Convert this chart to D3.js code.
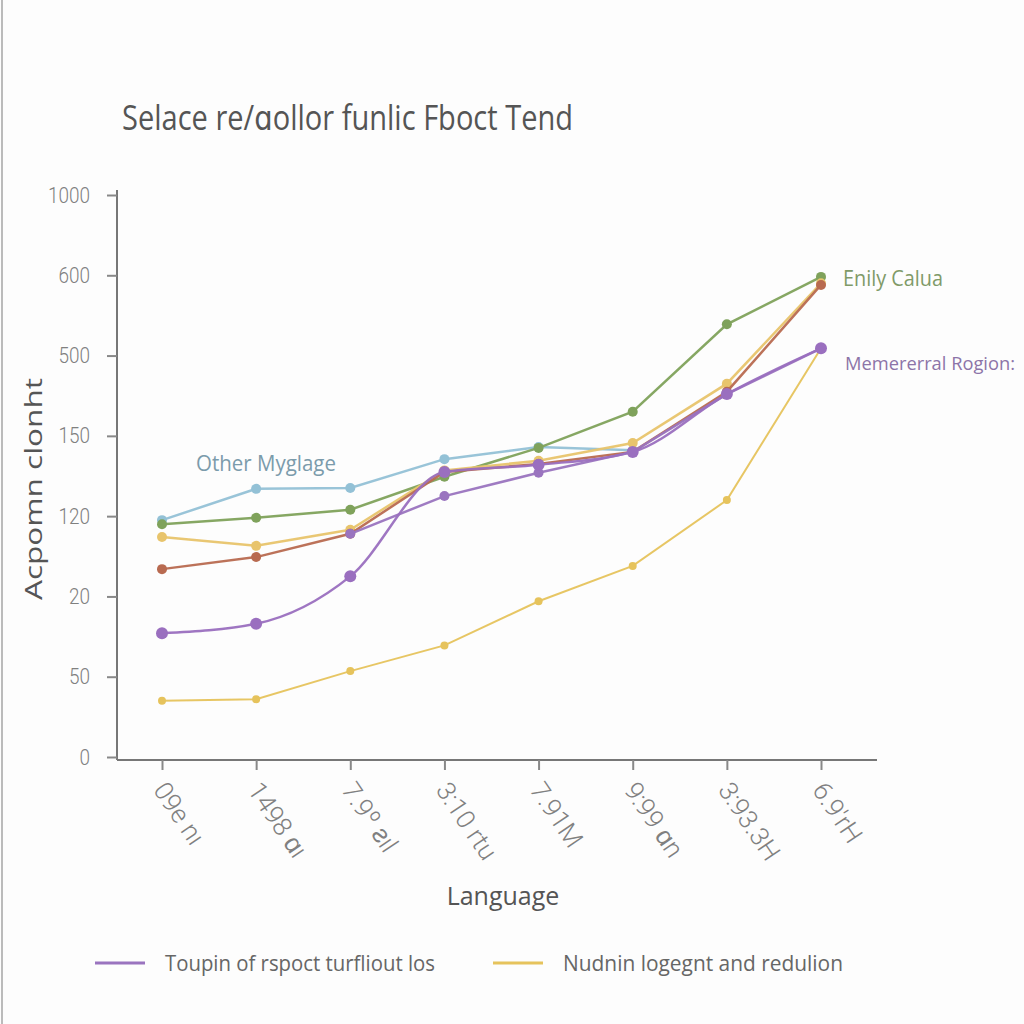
<!DOCTYPE html>
<html>
<head>
<meta charset="utf-8">
<script src="https://cdn.jsdelivr.net/npm/d3@7"></script>
<style>
  body { margin: 0; background: #fdfdfd; }
  svg { font-family: "Open Sans", "DejaVu Sans", sans-serif; }
</style>
</head>
<body>
<svg></svg>
<script>
// categories on the x axis
const categories = ["09e nı", "1498 ɑı", "7.9º ƨıl", "3:10 rtu", "7.91M", "9:99 ɑn", "3:93.3H", "6.9'rH"]
// y tick labels, evenly spaced (values below are in tick units, 0..7)
const yTickLabels = ["0", "50", "20", "120", "150", "500", "600", "1000"]

const blueVals    = [2.95, 3.34, 3.35, 3.71, 3.86, 3.82, null, null]
const greenVals   = [2.90, 2.98, 3.08, 3.49, 3.85, 4.30, 5.39, 5.98]
const yellowVals  = [2.74, 2.63, 2.83, 3.57, 3.69, 3.91, 4.65, 5.90]
const brownVals   = [2.34, 2.49, 2.78, 3.55, 3.65, 3.80, 4.55, 5.88]
const purpleVals  = [1.54, 1.66, 2.25, 3.55, 3.64, 3.80, 4.52, 5.09]
const purple2Vals = [null, null, 2.78, 3.25, 3.54, 3.80, 4.52, 5.09]
const lowYelVals  = [0.70, 0.72, 1.07, 1.39, 1.94, 2.38, 3.20, 5.09]

const series = [
    {vals: lowYelVals,  color: '#e6c35c', w: 2,   r: 4},
    {vals: blueVals,    color: '#93c1d6', w: 2.5, r: 5},
    {vals: greenVals,   color: '#7fa25b', w: 2.5, r: 5},
    {vals: yellowVals,  color: '#e8c46c', w: 2.5, r: 5},
    {vals: brownVals,   color: '#b86a50', w: 2.5, r: 5},
    {vals: purple2Vals, color: '#9a74bf', w: 2.5, r: 5},
    {vals: purpleVals,  color: '#9a6fbf', w: 2.5, r: 6, curve: true}
]

const W = 1024, H = 1024
const thinFont = 'Roboto, Liberation Sans, sans-serif'

let svg = d3.select('svg')
    .attr('width', W)
    .attr('height', H)

// left border line
svg.append('line')
    .attr('x1', 2).attr('x2', 2).attr('y1', 0).attr('y2', H)
    .attr('stroke', '#bbb').attr('stroke-width', 2)

let x = d3.scalePoint()
    .domain(categories)
    .range([162, 821])

let y = d3.scaleLinear()
    .domain([0, 7])
    .range([757, 195])

// title
svg.append('text')
    .attr('x', 122).attr('y', 130)
    .attr('font-size', 34)
    .attr('fill', '#555')
    .attr('textLength', 451)
    .attr('lengthAdjust', 'spacingAndGlyphs')
    .text('Selace re/ɑollor funlic Fboct Tend')

// y axis
let yAxis = d3.axisLeft(y)
    .tickValues(d3.range(8))
    .tickFormat(i => yTickLabels[i])
    .tickSize(10)
    .tickSizeOuter(0)

let gy = svg.append('g')
    .attr('transform', 'translate(117,0)')
    .call(yAxis)
gy.select('.domain').attr('stroke', '#777').attr('stroke-width', 2)
    .attr('d', 'M0,190V760')
gy.selectAll('.tick line').attr('stroke', '#888').attr('stroke-width', 2)
gy.selectAll('.tick text')
    .attr('x', -27)
    .attr('fill', '#808080')
    .attr('font-size', 22)
    .attr('font-weight', 300)
    .attr('font-family', thinFont)
    .attr('textLength', d => yTickLabels[d].length * 10.5)
    .attr('lengthAdjust', 'spacingAndGlyphs')

svg.append('text')
    .attr('transform', 'translate(42,489) rotate(-90)')
    .attr('text-anchor', 'middle')
    .attr('font-size', 24)
    .attr('fill', '#555')
    .attr('textLength', 222)
    .attr('lengthAdjust', 'spacingAndGlyphs')
    .text('Acpomn clonht')

// x axis
let xAxis = d3.axisBottom(x)
    .tickSize(10)
    .tickSizeOuter(0)

let gx = svg.append('g')
    .attr('transform', 'translate(0,760)')
    .call(xAxis)
gx.select('.domain').attr('stroke', '#777').attr('stroke-width', 2)
    .attr('d', 'M117,0H877')
gx.selectAll('.tick line').attr('stroke', '#888').attr('stroke-width', 2)
gx.selectAll('.tick text')
    .attr('fill', '#808080')
    .attr('font-size', 26)
    .attr('font-weight', 300)
    .attr('font-family', thinFont)
    .attr('text-anchor', 'start')
    .attr('dy', 0)
    .attr('y', 0)
    .attr('transform', 'translate(-10,30) rotate(56)')

svg.append('text')
    .attr('x', 503).attr('y', 905)
    .attr('text-anchor', 'middle')
    .attr('font-size', 25)
    .attr('fill', '#555')
    .text('Language')

// lines
series.forEach(s => {
    let line = d3.line()
        .defined(d => d != null)
        .x((d, i) => x(categories[i]))
        .y(d => y(d))
        .curve(s.curve ? d3.curveMonotoneX : d3.curveLinear)

    svg.append('path')
        .datum(s.vals)
        .attr('d', line)
        .attr('fill', 'none')
        .attr('stroke', s.color)
        .attr('stroke-width', s.w)
        .attr('opacity', 0.95)

    svg.selectAll(null)
        .data(s.vals.map((v, i) => ({v, i})).filter(d => d.v != null))
        .enter()
        .append('circle')
            .attr('cx', d => x(categories[d.i]))
            .attr('cy', d => y(d.v))
            .attr('r', s.r)
            .attr('fill', s.color)
})

// inline labels
svg.append('text')
    .attr('x', 196).attr('y', 471)
    .attr('font-size', 21)
    .attr('fill', '#7b9bab')
    .attr('textLength', 140)
    .attr('lengthAdjust', 'spacingAndGlyphs')
    .text('Other Myglage')

svg.append('text')
    .attr('x', 843).attr('y', 286)
    .attr('font-size', 21)
    .attr('fill', '#809a68')
    .attr('textLength', 100)
    .attr('lengthAdjust', 'spacingAndGlyphs')
    .text('Enily Calua')

svg.append('text')
    .attr('x', 845).attr('y', 370)
    .attr('font-size', 19)
    .attr('fill', '#8c74a8')
    .attr('textLength', 170)
    .attr('lengthAdjust', 'spacingAndGlyphs')
    .text('Memererral Rogion:')

// legend
const legend = [
    {label: 'Toupin of rspoct turfliout los', color: '#9a74bf', x: 95, len: 270},
    {label: 'Nudnin logegnt and redulion', color: '#e6c35c', x: 493, len: 280}
]
let lg = svg.selectAll('.legend')
    .data(legend)
    .enter()
    .append('g')
    .attr('class', 'legend')
    .attr('transform', d => `translate(${d.x},963)`)
lg.append('line')
    .attr('x1', 0).attr('x2', 50)
    .attr('stroke', d => d.color)
    .attr('stroke-width', 3)
lg.append('text')
    .attr('x', 70).attr('y', 8)
    .attr('font-size', 22)
    .attr('fill', '#666')
    .attr('textLength', d => d.len)
    .attr('lengthAdjust', 'spacingAndGlyphs')
    .text(d => d.label)
</script>
</body>
</html>
